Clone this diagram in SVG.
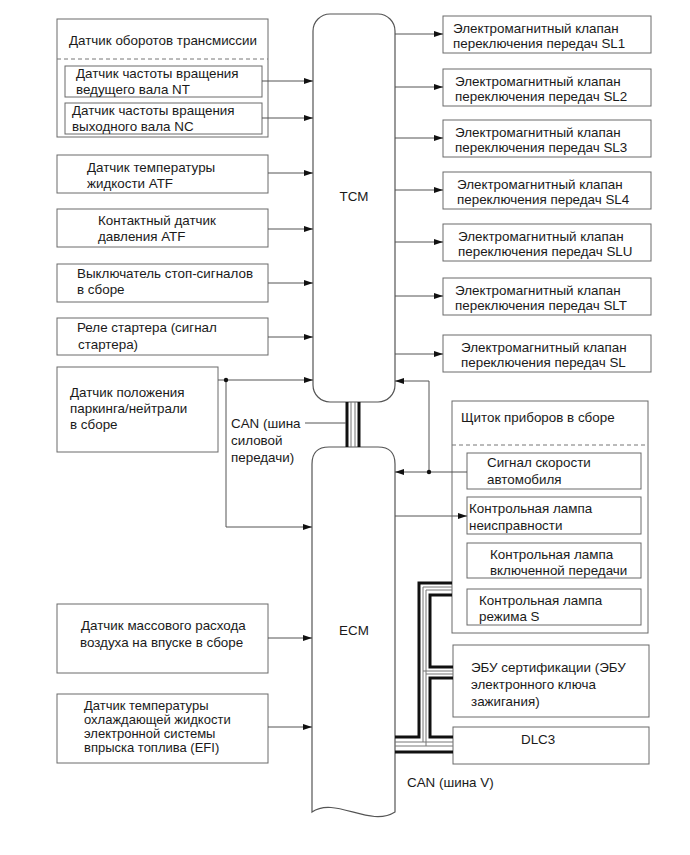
<svg xmlns="http://www.w3.org/2000/svg" width="690" height="855" viewBox="0 0 690 855">
<defs>
<style>
.box{fill:#fff;stroke:#6a6a6a;stroke-width:1}
.ctl{fill:#fff;stroke:#555;stroke-width:1.2}
.t{font-family:"Liberation Sans",Arial,sans-serif;font-size:13.4px;fill:#1a1a1a}
.ts{font-family:"Liberation Sans",Arial,sans-serif;font-size:13px;fill:#1a1a1a}
.ln{fill:none;stroke:#555;stroke-width:1}
.dash{fill:none;stroke:#777;stroke-width:1;stroke-dasharray:4,3}
.thick{fill:none;stroke:#111;stroke-width:3}
.thin{fill:none;stroke:#777;stroke-width:1}
</style>
<marker id="ah" markerUnits="userSpaceOnUse" markerWidth="10" markerHeight="8" refX="9" refY="4" orient="auto">
<path d="M0,1 L9,4 L0,7 Z" fill="#111"/>
</marker>
</defs>
<rect width="690" height="855" fill="#fff"/>

<g id="TCM">
<rect class="ctl" x="313" y="14" width="82" height="388" rx="17" ry="17"/>
<text class="t" x="354" y="201" text-anchor="middle">TCM</text>
</g>
<g id="ECM">
<path class="ctl" d="M312,812 L312,464 Q312,447 329,447 L378,447 Q395,447 395,464 L395,812 C370,828 335,796 312,812 Z"/>
<text class="t" x="354" y="635" text-anchor="middle">ECM</text>
</g>

<g id="trans-speed">
<rect class="box" x="57" y="19" width="211" height="118"/>
<text class="t" x="69" y="45">Датчик оборотов трансмиссии</text>
<line class="dash" x1="57" y1="59" x2="268" y2="59"/>
</g>
<g id="nt">
<rect class="box" x="65" y="66" width="197" height="31"/>
<text class="t" x="76" y="78">Датчик частоты вращения</text>
<text class="t" x="76" y="94">ведущего вала NT</text>
</g>
<g id="nc">
<rect class="box" x="65" y="103" width="197" height="31"/>
<text class="t" x="72" y="115">Датчик частоты вращения</text>
<text class="t" x="72" y="131">выходного вала NC</text>
</g>
<g id="atf-temp">
<rect class="box" x="57" y="155" width="211" height="38"/>
<text class="t" x="87" y="172">Датчик температуры</text>
<text class="t" x="87" y="188">жидкости ATF</text>
</g>
<g id="atf-press">
<rect class="box" x="57" y="209" width="211" height="38"/>
<text class="t" x="98" y="225">Контактный датчик</text>
<text class="t" x="98" y="241">давления ATF</text>
</g>
<g id="brake">
<rect class="box" x="57" y="264" width="211" height="38"/>
<text class="t" x="77" y="278">Выключатель стоп-сигналов</text>
<text class="t" x="77" y="294">в сборе</text>
</g>
<g id="starter">
<rect class="box" x="57" y="318" width="211" height="37"/>
<text class="t" x="77" y="332">Реле стартера (сигнал</text>
<text class="t" x="78" y="349">стартера)</text>
</g>
<g id="pn">
<rect class="box" x="57" y="367" width="161" height="85"/>
<text class="t" x="70" y="397">Датчик положения</text>
<text class="t" x="70" y="413">паркинга/нейтрали</text>
<text class="t" x="70" y="429">в сборе</text>
</g>
<g id="maf">
<rect class="box" x="57" y="604" width="211" height="69"/>
<text class="t" x="81" y="630">Датчик массового расхода</text>
<text class="t" x="80" y="647">воздуха на впуске в сборе</text>
</g>
<g id="efi">
<rect class="box" x="57" y="694" width="211" height="69"/>
<text class="ts" x="84" y="710">Датчик температуры</text>
<text class="ts" x="84" y="724">охлаждающей жидкости</text>
<text class="ts" x="84" y="738">электронной системы</text>
<text class="ts" x="84" y="752">впрыска топлива (EFI)</text>
</g>

<g id="sl1">
<rect class="box" x="443" y="16" width="208" height="37"/>
<text class="t" x="453" y="33">Электромагнитный клапан</text>
<text class="t" x="453" y="48">переключения передач SL1</text>
</g>
<g id="sl2">
<rect class="box" x="443" y="69" width="208" height="37"/>
<text class="t" x="455" y="86">Электромагнитный клапан</text>
<text class="t" x="455" y="101">переключения передач SL2</text>
</g>
<g id="sl3">
<rect class="box" x="443" y="120" width="208" height="37"/>
<text class="t" x="455" y="137">Электромагнитный клапан</text>
<text class="t" x="455" y="152">переключения передач SL3</text>
</g>
<g id="sl4">
<rect class="box" x="443" y="172" width="208" height="37"/>
<text class="t" x="457" y="189">Электромагнитный клапан</text>
<text class="t" x="457" y="204">переключения передач SL4</text>
</g>
<g id="slu">
<rect class="box" x="443" y="224" width="208" height="37"/>
<text class="t" x="458" y="241">Электромагнитный клапан</text>
<text class="t" x="458" y="256">переключения передач SLU</text>
</g>
<g id="slt">
<rect class="box" x="443" y="278" width="208" height="37"/>
<text class="t" x="455" y="295">Электромагнитный клапан</text>
<text class="t" x="455" y="310">переключения передач SLT</text>
</g>
<g id="sl">
<rect class="box" x="443" y="335" width="208" height="37"/>
<text class="t" x="461" y="352">Электромагнитный клапан</text>
<text class="t" x="461" y="367">переключения передач SL</text>
</g>

<g id="combo">
<rect class="box" x="452" y="401" width="196" height="232"/>
<text class="t" x="461" y="422">Щиток приборов в сборе</text>
<line class="dash" x1="452" y1="445" x2="648" y2="445"/>
</g>
<g id="spd">
<rect class="box" x="467" y="453" width="174" height="36"/>
<text class="t" x="487" y="467">Сигнал скорости</text>
<text class="t" x="487" y="484">автомобиля</text>
</g>
<g id="mil">
<rect class="box" x="467" y="497" width="174" height="37"/>
<text class="t" x="469" y="513">Контрольная лампа</text>
<text class="t" x="469" y="530">неисправности</text>
</g>
<g id="gear">
<rect class="box" x="467" y="543" width="174" height="35"/>
<text class="t" x="490" y="559">Контрольная лампа</text>
<text class="t" x="490" y="575">включенной передачи</text>
</g>
<g id="smode">
<rect class="box" x="467" y="589" width="174" height="36"/>
<text class="t" x="479" y="605">Контрольная лампа</text>
<text class="t" x="479" y="621">режима S</text>
</g>
<g id="cert">
<rect class="box" x="453" y="645" width="196" height="72"/>
<text class="t" x="471" y="672">ЭБУ сертификации (ЭБУ</text>
<text class="t" x="471" y="689">электронного ключа</text>
<text class="t" x="471" y="706">зажигания)</text>
</g>
<g id="dlc3">
<rect class="box" x="453" y="727" width="196" height="37"/>
<text class="t" x="521" y="744">DLC3</text>
</g>

<g id="connectors">
<line class="ln" x1="262" y1="81" x2="313" y2="81" marker-end="url(#ah)"/>
<line class="ln" x1="262" y1="118" x2="313" y2="118" marker-end="url(#ah)"/>
<line class="ln" x1="268" y1="173" x2="313" y2="173" marker-end="url(#ah)"/>
<line class="ln" x1="268" y1="229" x2="313" y2="229" marker-end="url(#ah)"/>
<line class="ln" x1="268" y1="283" x2="313" y2="283" marker-end="url(#ah)"/>
<line class="ln" x1="268" y1="337" x2="313" y2="337" marker-end="url(#ah)"/>
<line class="ln" x1="218" y1="380" x2="313" y2="380" marker-end="url(#ah)"/>
<polyline class="ln" points="226,380 226,527 312,527" marker-end="url(#ah)"/>
<circle cx="226" cy="380" r="2.2" fill="#111"/>
<line class="ln" x1="268" y1="638" x2="312" y2="638" marker-end="url(#ah)"/>
<line class="ln" x1="268" y1="727" x2="312" y2="727" marker-end="url(#ah)"/>

<line class="ln" x1="395" y1="34" x2="443" y2="34" marker-end="url(#ah)"/>
<line class="ln" x1="395" y1="87" x2="443" y2="87" marker-end="url(#ah)"/>
<line class="ln" x1="395" y1="138" x2="443" y2="138" marker-end="url(#ah)"/>
<line class="ln" x1="395" y1="190" x2="443" y2="190" marker-end="url(#ah)"/>
<line class="ln" x1="395" y1="242" x2="443" y2="242" marker-end="url(#ah)"/>
<line class="ln" x1="395" y1="296" x2="443" y2="296" marker-end="url(#ah)"/>
<line class="ln" x1="395" y1="354" x2="443" y2="354" marker-end="url(#ah)"/>

<line class="ln" x1="467" y1="472" x2="395" y2="472" marker-end="url(#ah)"/>
<polyline class="ln" points="429,472 429,381 395,381" marker-end="url(#ah)"/>
<circle cx="429" cy="472" r="2.2" fill="#111"/>
<line class="ln" x1="395" y1="516" x2="467" y2="516" marker-end="url(#ah)"/>

<line class="thick" x1="347" y1="402" x2="347" y2="447"/>
<line class="thin" x1="351" y1="402" x2="351" y2="447"/>
<line class="thin" x1="355" y1="402" x2="355" y2="447"/>
<line class="thick" x1="359" y1="402" x2="359" y2="447"/>
<line class="ln" x1="305" y1="423" x2="346" y2="423"/>
<text class="t" x="231" y="428">CAN (шина</text>
<text class="t" x="231" y="445">силовой</text>
<text class="t" x="231" y="462">передачи)</text>

<polyline class="thick" points="395,737 419,737 419,583 452,583"/>
<polyline class="thin" points="395,742 423,742 423,587 452,587"/>
<polyline class="thin" points="395,746 426,746 426,590 452,590"/>
<line class="thin" x1="423" y1="742" x2="453" y2="742"/>
<line class="thin" x1="426" y1="746" x2="453" y2="746"/>
<line class="thick" x1="395" y1="752" x2="453" y2="752"/>
<polyline class="thick" points="452,595 430,595 430,667 453,667"/>
<line class="thin" x1="423" y1="671" x2="453" y2="671"/>
<line class="thin" x1="426" y1="674" x2="453" y2="674"/>
<polyline class="thick" points="453,678 430,678 430,737 453,737"/>
<text class="t" x="407" y="787">CAN (шина V)</text>
</g>
</svg>
